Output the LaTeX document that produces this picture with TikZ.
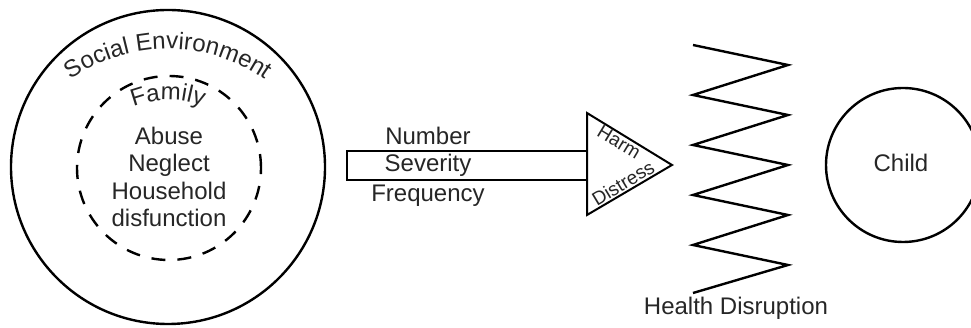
\documentclass[tikz,border=0pt]{standalone}
\usepackage{fontspec}
\setmainfont{Liberation Sans}
\usetikzlibrary{decorations.text}
\begin{document}
\begin{tikzpicture}[x=1pt, y=1pt,
  ink/.style={line width=2.4pt, draw=black},
  ring/.style={circle, ink, inner sep=0pt},
  famring/.style={ring, dash pattern=on 14pt off 12pt},
  txt/.style={font=\fontsize{24}{24}\selectfont, text=black!85, inner sep=0pt, anchor=base},
  small/.style={font=\fontsize{19}{19}\selectfont, text=black!85, inner sep=0pt}]
\useasboundingbox (0,0) rectangle (971,328);

% nested environments
\node[ring, minimum size=314pt] (env) at (168,161) {};
\node[famring, minimum size=184pt] (fam) at (169,160) {};

% curved headings
\path[decorate, decoration={text along path, text align=center,
  text={|\fontsize{24}{24}\selectfont\color{black!85}|Social Environment}}]
  (168,110) ++(127:169) arc[start angle=127, end angle=53, radius=169];
\path[decorate, decoration={text along path, text align=center,
  text={|\fontsize{24}{24}\selectfont\color{black!85}|Family}}]
  (168,135) ++(113:93) arc[start angle=113, end angle=67, radius=93];

% adverse experiences
\node[txt] (abuse)   at (169,183) {Abuse};
\node[txt] (neglect) at (169,156) {Neglect};
\node[txt] (house)   at (169,128) {Household};
\node[txt] (disf)    at (169,101) {disfunction};

% exposure arrow
\coordinate (tl) at (587,215);
\coordinate (bl) at (587,113);
\coordinate (tip) at (672,163);
\draw[line width=2pt] (347,148) rectangle (587,177);
\draw[line width=2pt, line join=miter] (tl) -- (tip) -- (bl) -- cycle;
\node[txt] (number) at (428,183) {Number};
\node[txt] (sever)  at (428,156) {Severity};
\node[txt] (freq)   at (428,126) {Frequency};
\node[small, rotate=-31] (harm) at (619,186) {Harm};
\node[small, rotate=31] (distress) at (623,145) {Distress};

% health disruption spring
\draw[ink, line join=miter] (693,283) -- (788,263) -- (693,233) -- (788,213) -- (693,183)
  -- (788,163) -- (693,133) -- (788,113) -- (693,83) -- (788,63) -- (693,35);
\node[txt] (health) at (736,13) {Health Disruption};

% child
\node[ring, minimum size=154pt] (child) at (903,163) {};
\node[txt] (childlbl) at (901,156) {Child};
\end{tikzpicture}
\end{document}
